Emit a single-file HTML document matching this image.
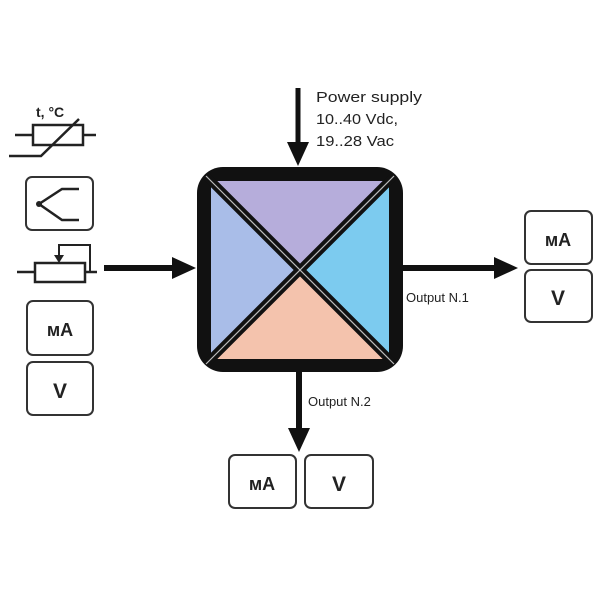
<!DOCTYPE html>
<html><head><style>
html,body{margin:0;padding:0;background:#fff;}
svg{display:block;}
text{font-family:"Liberation Sans",sans-serif;}
</style></head><body>
<svg width="600" height="600" viewBox="0 0 600 600" xmlns="http://www.w3.org/2000/svg">
<rect width="600" height="600" fill="#fff"/>
<!-- thermistor -->
<text x="36" y="117" font-size="14" font-weight="bold" fill="#222">t, °C</text>
<line x1="15" y1="135" x2="33" y2="135" stroke="#222" stroke-width="2.5"/>
<line x1="83" y1="135" x2="96" y2="135" stroke="#222" stroke-width="2.5"/>
<rect x="33" y="125" width="50" height="20" fill="#fff" stroke="#222" stroke-width="2.5"/>
<polyline points="9,156 41,156 79,119" fill="none" stroke="#222" stroke-width="2.5"/>
<!-- thermocouple -->
<rect x="26" y="177" width="67" height="53" rx="6" fill="#fff" stroke="#333" stroke-width="2"/>
<polyline points="79,189 62,189 39,204 62,220 79,220" fill="none" stroke="#222" stroke-width="2.5"/>
<circle cx="39" cy="204" r="3" fill="#222"/>
<!-- potentiometer -->
<line x1="17" y1="272" x2="35" y2="272" stroke="#222" stroke-width="2.5"/>
<line x1="85" y1="272" x2="97" y2="272" stroke="#222" stroke-width="2.5"/>
<rect x="35" y="263" width="50" height="19" fill="#fff" stroke="#222" stroke-width="2.5"/>
<polyline points="59,258 59,245 90,245 90,272" fill="none" stroke="#222" stroke-width="2"/>
<polygon points="54,255 64,255 59,263" fill="#222"/>
<!-- input arrow -->
<line x1="104" y1="268" x2="176" y2="268" stroke="#111" stroke-width="6"/>
<polygon points="172,257 196,268 172,279" fill="#111"/>
<!-- left mA / V -->
<rect x="27" y="301" width="66" height="54" rx="6" fill="#fff" stroke="#333" stroke-width="2"/>
<text x="60" y="336" font-size="18" font-weight="bold" text-anchor="middle" fill="#222">мA</text>
<rect x="27" y="362" width="66" height="53" rx="6" fill="#fff" stroke="#333" stroke-width="2"/>
<text x="60" y="398" font-size="21" font-weight="bold" text-anchor="middle" fill="#222">V</text>
<!-- power arrow -->
<line x1="298" y1="88" x2="298" y2="146" stroke="#111" stroke-width="5"/>
<polygon points="287,142 309,142 298,166" fill="#111"/>
<text x="316" y="102" font-size="15" fill="#222" textLength="106" lengthAdjust="spacingAndGlyphs">Power supply</text>
<text x="316" y="124" font-size="15" fill="#222" textLength="82" lengthAdjust="spacingAndGlyphs">10..40 Vdc,</text>
<text x="316" y="146" font-size="15" fill="#222" textLength="78" lengthAdjust="spacingAndGlyphs">19..28 Vac</text>
<!-- main box -->
<rect x="197" y="167" width="206" height="205" rx="26" fill="#111"/>
<polygon points="216,181 384,181 300,268" fill="#b6addb"/>
<polygon points="211,186 211,354 295,270" fill="#a9bde8"/>
<polygon points="389,186 389,354 305,270" fill="#7ccbef"/>
<polygon points="216,359 384,359 300,274" fill="#f4c3ad"/>
<line x1="206" y1="176" x2="394" y2="364" stroke="#111" stroke-width="9"/>
<line x1="394" y1="176" x2="206" y2="364" stroke="#111" stroke-width="9"/>
<line x1="206" y1="176" x2="394" y2="364" stroke="#bbb" stroke-width="1.2"/>
<line x1="394" y1="176" x2="206" y2="364" stroke="#bbb" stroke-width="1.2"/>
<!-- output 1 -->
<line x1="403" y1="268" x2="498" y2="268" stroke="#111" stroke-width="6"/>
<polygon points="494,257 518,268 494,279" fill="#111"/>
<text x="406" y="302" font-size="13" fill="#222">Output N.1</text>
<rect x="525" y="211" width="67" height="53" rx="6" fill="#fff" stroke="#333" stroke-width="2"/>
<text x="558" y="246" font-size="18" font-weight="bold" text-anchor="middle" fill="#222">мA</text>
<rect x="525" y="270" width="67" height="52" rx="6" fill="#fff" stroke="#333" stroke-width="2"/>
<text x="558" y="305" font-size="21" font-weight="bold" text-anchor="middle" fill="#222">V</text>
<!-- output 2 -->
<line x1="299" y1="372" x2="299" y2="432" stroke="#111" stroke-width="6"/>
<polygon points="288,428 310,428 299,452" fill="#111"/>
<text x="308" y="406" font-size="13" fill="#222">Output N.2</text>
<rect x="229" y="455" width="67" height="53" rx="6" fill="#fff" stroke="#333" stroke-width="2"/>
<text x="262" y="490" font-size="18" font-weight="bold" text-anchor="middle" fill="#222">мA</text>
<rect x="305" y="455" width="68" height="53" rx="6" fill="#fff" stroke="#333" stroke-width="2"/>
<text x="339" y="491" font-size="21" font-weight="bold" text-anchor="middle" fill="#222">V</text>
</svg>
</body></html>
